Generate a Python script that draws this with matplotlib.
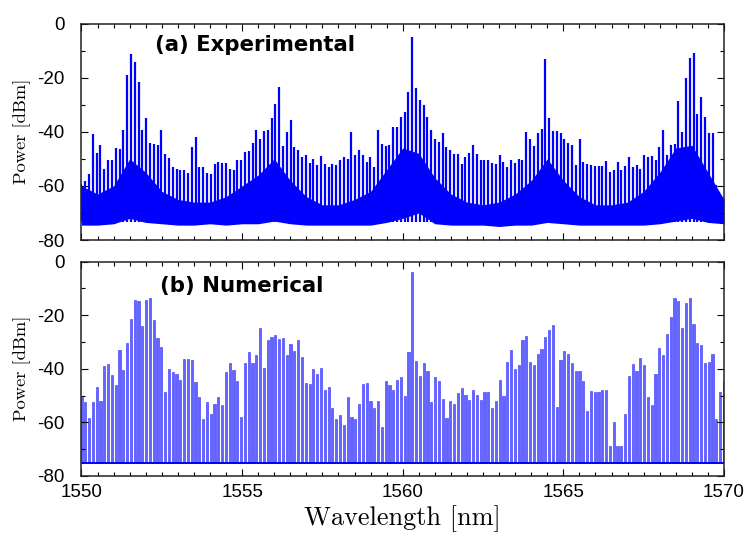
import numpy as np
import matplotlib.pyplot as plt
from matplotlib.ticker import MultipleLocator

plt.rcParams['axes.unicode_minus'] = False

# cavity modes, 1550-1570 nm
n_modes = 170
wl = np.linspace(1550, 1570, n_modes)

# measured mode peaks [dBm]
exp_peaks = [
    -59.2, -58.2, -55.7, -40.9, -47.8, -45.0, -53.9, -50.6, -50.6, -45.9,
    -46.3, -39.4, -19.1, -11.1, -14.1, -21.5, -39.4, -34.8, -44.1, -44.6,
    -45.0, -39.4, -48.1, -49.6, -53.0, -53.6, -54.0, -54.2, -55.4, -45.6,
    -41.9, -53.0, -53.0, -55.2, -55.7, -52.0, -51.2, -51.5, -51.5, -53.9,
    -54.0, -50.6, -50.4, -47.5, -47.2, -44.1, -39.4, -42.5, -39.6, -39.4,
    -34.8, -29.6, -23.4, -45.3, -40.0, -35.8,
    -45.6, -46.6, -49.3, -48.7, -51.5, -50.0, -52.1, -49.0, -51.8, -53.0,
    -51.8, -52.1, -50.3, -49.5, -50.0, -40.0, -48.7, -46.6, -48.7, -51.2,
    -49.3, -53.0, -39.4, -44.6, -45.3, -44.9, -38.2, -38.2, -34.5, -32.7,
    -25.3, -4.9, -24.0, -28.3, -30.2, -34.5, -39.4, -42.5, -43.7, -40.6,
    -45.6, -46.9, -48.1, -48.1, -51.8, -49.3, -47.8, -44.9, -48.1, -50.6,
    -50.3, -50.6, -51.5, -51.8, -48.7, -51.2, -53.0,
    -50.3, -51.5, -50.0, -50.6, -40.0, -42.5, -45.3, -40.6, -39.1, -13.3,
    -35.1, -39.6, -39.6, -40.6, -42.8, -44.0, -44.9, -52.1, -42.5, -51.2,
    -51.8, -52.3, -52.6, -52.6, -52.6, -50.9, -55.0, -54.3, -51.2, -54.0,
    -52.8, -49.3, -53.0, -52.3, -53.6, -48.7, -49.3, -49.0, -50.6, -45.6,
    -39.4, -48.7, -44.9, -44.6, -28.6, -40.0, -20.3, -12.9, -11.0, -33.6,
    -27.3, -34.5, -40.6, -40.6, -59.5, -66.0, -68.0,
]

# dense low-level part of the measured trace (every 0.5 nm)
env_wl = np.arange(1550, 1570.01, 0.5)
exp_band_top = [
    -60, -63, -60, -50, -55, -62, -65, -66, -66, -64,
    -60, -56, -50, -58, -64, -67, -67, -65, -62, -54,
    -46, -48, -57, -63, -66, -67, -66, -63, -58, -50,
    -58, -64, -67, -67, -66, -62, -55, -46, -45, -55,
    -65,
]
exp_band_floor = [
    -74.5, -74.5, -74.0, -72.0, -73.5, -74.0, -74.5, -74.5, -74.0, -74.5,
    -74.0, -74.0, -73.0, -74.0, -74.5, -74.5, -74.5, -74.5, -74.5, -73.5,
    -72.0, -70.0, -74.0, -74.5, -74.5, -74.5, -75.0, -74.5, -74.5, -73.5,
    -74.0, -74.5, -74.5, -74.5, -74.5, -74.5, -74.0, -73.0, -72.0, -73.5,
    -74.0,
]

# simulated mode powers [dBm]
num_peaks = [
    -50.6, -52.3, -58.4, -52.4, -46.8, -52.0, -39.0, -38.3, -42.2, -46.2,
    -33.0, -40.6, -30.3, -21.5, -14.3, -14.6, -24.0, -14.3, -13.7, -21.8,
    -28.4, -31.8, -48.7, -40.0, -41.2, -41.8, -44.3, -36.2, -36.2, -36.8,
    -44.9, -50.6, -58.7, -52.4, -56.8, -53.0, -50.6, -53.6, -41.2, -38.0,
    -40.6, -44.7, -58.0,
    -38.0, -33.9, -37.8, -34.7, -24.7, -39.7, -29.4, -28.1, -27.2, -28.7,
    -28.4, -34.7, -30.6, -33.4, -29.4, -35.6, -45.2, -45.6, -40.0, -41.8,
    -39.7, -48.0, -46.8, -54.7, -58.9, -57.2, -60.9, -50.6, -58.0, -58.9,
    -53.0, -45.8, -45.4, -52.2, -54.5, -52.0, -61.8, -44.7, -46.2, -48.0,
    -44.3, -43.1, -50.3,
    -33.7, -3.7, -37.2, -42.7, -38.0, -40.9, -52.4, -43.0, -44.4, -51.2,
    -58.4, -52.0, -53.3, -48.9, -47.2, -49.6, -51.5, -48.0, -49.8, -51.5,
    -48.5, -48.7, -54.7, -52.0, -44.0, -50.3, -37.5, -32.8, -40.2, -38.7,
    -29.4, -27.8, -37.5, -38.5, -34.5, -32.7, -28.3, -25.5, -23.7, -54.3,
    -36.7, -33.4,
    -34.5, -37.8, -41.0, -41.0, -44.7, -55.8, -48.2, -48.7, -48.7, -47.8,
    -48.0, -68.9, -59.7, -68.9, -69.0, -56.8, -42.5, -38.3, -40.9, -35.9,
    -38.4, -50.6, -53.6, -42.0, -32.2, -34.7, -27.1, -20.6, -13.7, -14.6,
    -24.7, -15.6, -13.7, -23.1, -30.2, -31.0, -37.8, -37.3, -34.5, -58.7,
    -48.7, -44.7,
]
num_floor = -75

fig = plt.figure(figsize=(7.49, 5.39), dpi=100)
ax1 = fig.add_axes([0.1088, 0.5547, 0.8578, 0.4017])
ax2 = fig.add_axes([0.1088, 0.1170, 0.8578, 0.3975])

blue = '#0000ff'

# (a) measured spectrum
ax1.fill_between(env_wl, exp_band_floor, exp_band_top, color=blue, lw=0)
ax1.vlines(wl, -73.5, exp_peaks, color=blue, lw=1.6)

# (b) simulated spectrum
heights = np.array(num_peaks) - num_floor
ax2.bar(wl, heights, bottom=num_floor, width=0.068, color='#6464ff',
        edgecolor='#3030ff', linewidth=0.4)
ax2.axhline(num_floor, color=blue, lw=1.4)

tick_font = dict(family='Liberation Sans', size=13.5)
for ax in (ax1, ax2):
    ax.set_xlim(1550, 1570)
    ax.set_ylim(-80, 0)
    ax.xaxis.set_major_locator(MultipleLocator(5))
    ax.xaxis.set_minor_locator(MultipleLocator(0.5))
    ax.yaxis.set_major_locator(MultipleLocator(20))
    ax.yaxis.set_minor_locator(MultipleLocator(10))
    ax.tick_params(which='both', direction='in', top=True, right=True, width=0.8)
    ax.tick_params(which='major', length=5)
    ax.tick_params(which='minor', length=3)
    ax.tick_params(axis='y', pad=12)
    for lab in ax.get_xticklabels() + ax.get_yticklabels():
        lab.set_fontproperties(tick_font)
    for sp in ax.spines.values():
        sp.set_linewidth(1.1)
        sp.set_color('#222222')
    ax.set_ylabel('Power [dBm]', family='cmr10', fontsize=13.3, labelpad=5)

ax1.tick_params(labelbottom=False)
ax2.tick_params(axis='x', pad=6)
ax2.set_xlabel('Wavelength [nm]', family='cmr10', fontsize=18.9, labelpad=3)

ax1.text(0.114, 0.90, '(a) Experimental', transform=ax1.transAxes,
         fontsize=15.3, fontweight='bold', va='center', ha='left')
ax2.text(0.122, 0.886, '(b) Numerical', transform=ax2.transAxes,
         fontsize=15.3, fontweight='bold', va='center', ha='left')

fig.savefig('out.png', dpi=100)
